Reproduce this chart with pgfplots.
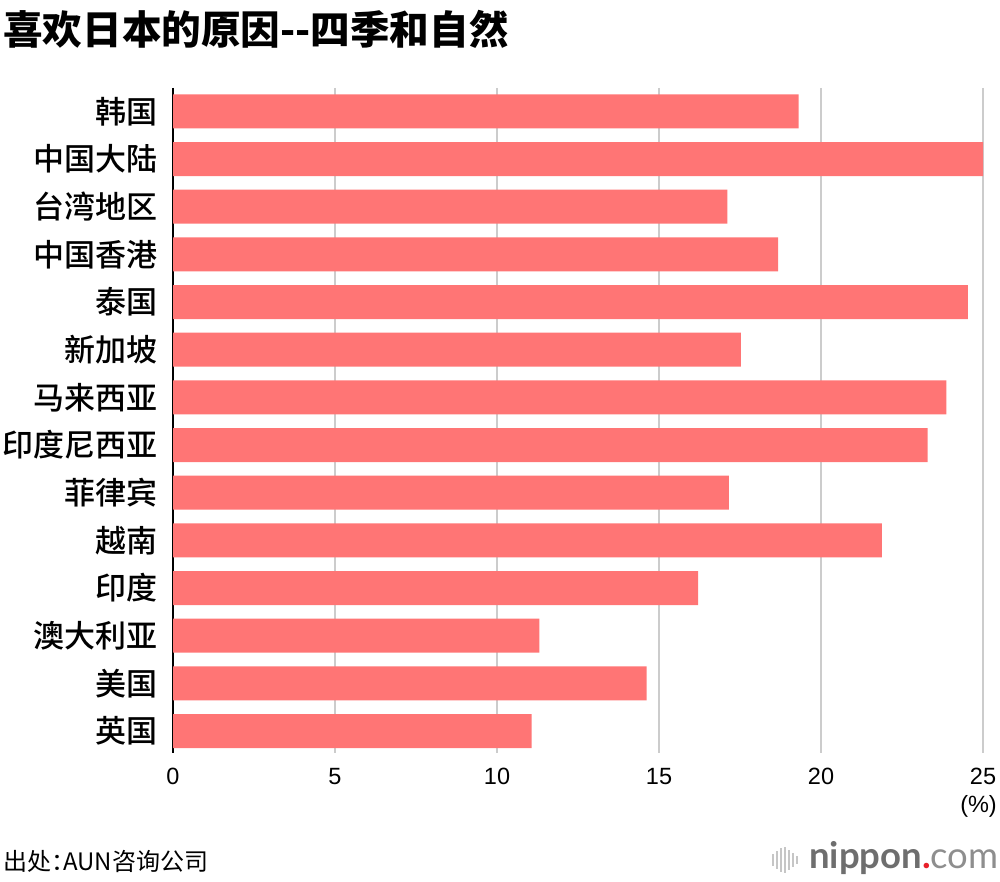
\documentclass[border=0pt]{standalone}
\usepackage{pgfplots}
\pgfplotsset{compat=1.18}
\usepackage{pgfplotstable}
\usepackage{fontspec}
\setmainfont{Liberation Sans}
\newfontfamily\cjk{Noto Sans CJK SC}
\newfontfamily\cjkm{Noto Sans CJK SC Medium}
\newfontfamily\cjkp[RawFeature=+palt]{Noto Sans CJK SC}
\newfontfamily\logofont{Lato}
\definecolor{barred}{HTML}{FF7575}
\definecolor{gridgray}{HTML}{CCCCCC}
\definecolor{logogray}{HTML}{6E6E6E}
\definecolor{logolight}{HTML}{8E8E8E}
\definecolor{logored}{HTML}{E8202A}

\pgfplotstableread{
idx value
0 19.31
1 25.00
2 17.11
3 18.68
4 24.53
5 17.53
6 23.87
7 23.29
8 17.16
9 21.88
10 16.21
11 11.31
12 14.62
13 11.07
}\datatable

\begin{document}
\begin{tikzpicture}[x=1pt,y=1pt]
\path[use as bounding box] (0,0) rectangle (1000,882);
\begin{axis}[
  at={(173pt,129pt)}, anchor=south west,
  scale only axis, width=810pt, height=665pt,
  xmin=0, xmax=25, ymin=-0.49, ymax=13.46, y dir=reverse,
  xbar, bar width=0.713,
  axis lines=left,
  x axis line style={draw=none},
  y axis line style={black, line width=1.6pt, -},
  xmajorgrids, grid style={gridgray, line width=1.6pt},
  major tick length=0pt,
  xtick={0,5,10,15,20,25},
  ytick={0,1,...,13},
  yticklabels={韩国,中国大陆,台湾地区,中国香港,泰国,新加坡,马来西亚,印度尼西亚,菲律宾,越南,印度,澳大利亚,美国,英国},
  yticklabel style={font=\cjkm\fontsize{31}{31}\selectfont, anchor=east, inner sep=0pt, xshift=-15pt},
  xticklabel style={font=\fontsize{23.5}{23.5}\selectfont, anchor=north, inner sep=0pt, yshift=-15pt},
  /pgf/number format/assume math mode=true,
  clip=false,
]
\addplot[fill=barred, draw=none] table[x=value, y=idx] {\datatable};
\end{axis}
% title
\node[anchor=north west, inner sep=0pt] at (3,872) {\cjk\bfseries\fontsize{39.6}{39.6}\selectfont 喜欢日本的原因--四季和自然};
% unit
\node[anchor=north east, inner sep=0pt] at (997,87) {\fontsize{23.5}{23.5}\selectfont (\%)};
% source
\node[anchor=west, inner sep=0pt] at (3,21) {\cjkp\fontsize{24}{24}\selectfont 出处：AUN咨询公司};
% logo
\foreach \xx/\hh in {773/12,777/18,781/24,785/26,789/20,793/14,797/8}
  \draw[gray!45, line width=1.8pt] (\xx,22-\hh/2) -- (\xx,22+\hh/2);
\node[anchor=base west, inner sep=0pt] at (809,13) {\logofont\fontsize{36.5}{36.5}\selectfont\textcolor{logogray}{\bfseries nippon}\textcolor{logored}{\bfseries .}\textcolor{logolight}{com}};
\end{tikzpicture}
\end{document}
